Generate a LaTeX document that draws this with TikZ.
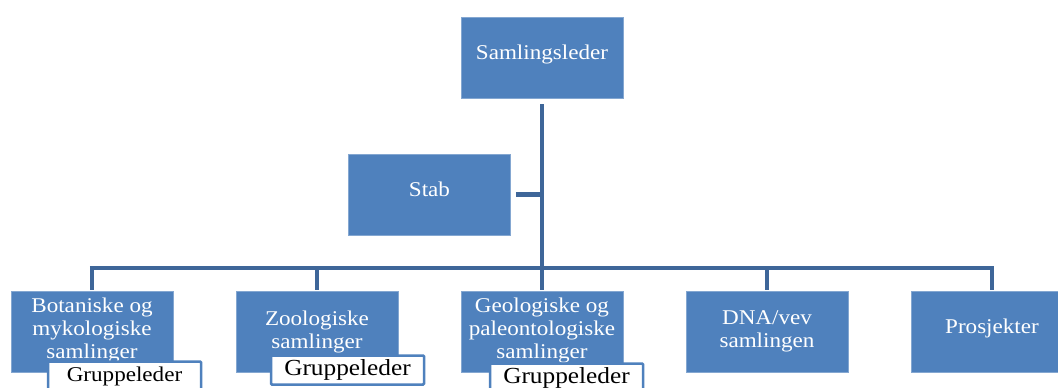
\documentclass[tikz,border=0pt]{standalone}
\usepackage{fontspec}
\setmainfont[FakeStretch=1.1]{Liberation Serif}
\usepackage{tikz}
\usetikzlibrary{positioning}
\definecolor{boxblue}{HTML}{4F81BD}
\definecolor{linkblue}{HTML}{3E6699}

\begin{document}
\begin{tikzpicture}[
    x=1pt, y=-1pt,
    unitbox/.style={draw=boxblue!70!white, line width=0.6pt, fill=boxblue, rectangle, minimum width=162pt, minimum height=81pt, text=white, font={\fontsize{21}{23}\selectfont}, align=center, inner sep=2pt},
    leader/.style={draw=boxblue, line width=2.5pt, rounded corners=1pt, fill=white, rectangle, minimum width=153pt, minimum height=29pt, inner sep=1pt, font={\fontsize{23}{25}\selectfont}},
    link/.style={draw=linkblue, line width=4.5pt}
]
\useasboundingbox (0,0) rectangle (1058,388);

% Top
\node[unitbox] (samlingsleder) at (542,57.5) {Samlingsleder\\[-12pt]};
\node[unitbox] (stab) at (429.5,194.5) {Stab\\[-12pt]};

% Collections
\node[unitbox] (botanikk) at (92,331.5) {Botaniske og\\mykologiske\\samlinger\\[-16pt]};
\node[unitbox] (zoologi) at (317,331.5) {Zoologiske\\samlinger};
\node[unitbox] (geologi) at (542,331.5) {Geologiske og\\paleontologiske\\samlinger\\[-16pt]};
\node[unitbox] (dna) at (767,331.5) {DNA/vev\\samlingen};
\node[unitbox] (prosjekter) at (992,331.5) {Prosjekter\\[-12pt]};

% Connections
\coordinate (bar) at (542,268);
\draw[link, shorten <=6pt] (samlingsleder.south) -- (bar);
\draw[link, shorten <=5pt] (stab.east) -- (stab.east -| samlingsleder.south);
\draw[link] ([xshift=-2.25pt]bar -| botanikk.north) -- ([xshift=2.25pt]bar -| prosjekter.north);
\foreach \n in {botanikk,zoologi,geologi,dna,prosjekter}
    \draw[link, shorten >=1pt] (bar -| \n.north) -- (\n.north);

% Group leaders
\node[leader, font={\fontsize{21}{24}\selectfont}] (grp1) at (124.5,376) {Gruppeleder};
\node[leader] (grp2) at (347.5,370) {Gruppeleder};
\node[leader] (grp3) at (566.5,378) {Gruppeleder};

\end{tikzpicture}
\end{document}
